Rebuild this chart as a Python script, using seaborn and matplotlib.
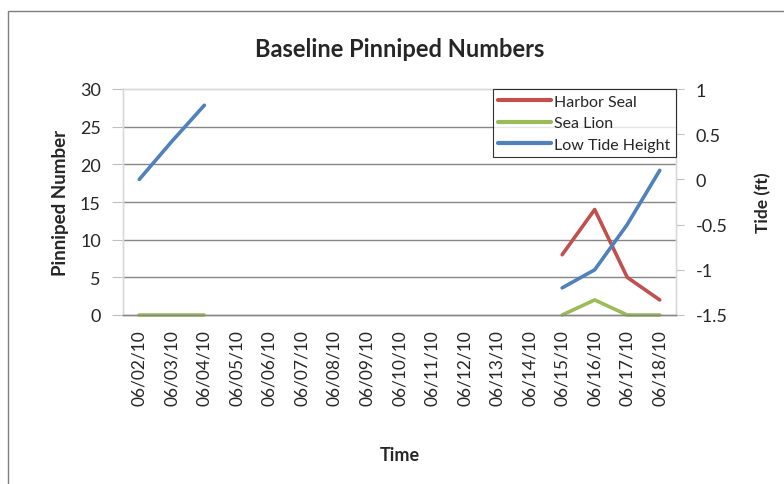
import numpy as np
import pandas as pd
import matplotlib.pyplot as plt
import matplotlib.patches as mpatches
from matplotlib.lines import Line2D
import seaborn as sns

# datos
dates = ["06/02/10", "06/03/10", "06/04/10", "06/05/10", "06/06/10", "06/07/10",
         "06/08/10", "06/09/10", "06/10/10", "06/11/10", "06/12/10", "06/13/10",
         "06/14/10", "06/15/10", "06/16/10", "06/17/10", "06/18/10"]
nan = np.nan
harbor_seal = [nan, nan, nan, nan, nan, nan, nan, nan, nan, nan, nan, nan, nan, 8, 14, 5, 2]
sea_lion = [0, 0, 0, nan, nan, nan, nan, nan, nan, nan, nan, nan, nan, 0, 2, 0, 0]
low_tide = [0.0, 0.42, 0.82, nan, nan, nan, nan, nan, nan, nan, nan, nan, nan, -1.2, -1.0, -0.5, 0.1]

colors = {"Harbor Seal": "#C0504D", "Sea Lion": "#9BBB59", "Low Tide Height": "#4F81BD"}


def to_long(name, values):
    # separar en tramos continuos para no unir los huecos
    rows = []
    seg = 0
    prev_nan = True
    for i, v in enumerate(values):
        if np.isnan(v):
            prev_nan = True
            continue
        if prev_nan:
            seg += 1
        prev_nan = False
        rows.append({"x": i, "value": v, "series": name, "seg": f"{name}_{seg}"})
    return pd.DataFrame(rows)


df_left = pd.concat([to_long("Harbor Seal", harbor_seal), to_long("Sea Lion", sea_lion)])
df_tide = to_long("Low Tide Height", low_tide)

sns.set_style("white")
plt.rcParams['font.family'] = ['Lato', 'DejaVu Sans']

fig = plt.figure(figsize=(7.84, 4.85), dpi=100)
ax = fig.add_axes([123 / 784, 1 - 316 / 485, (676 - 123) / 784, (316 - 90) / 485])
ax2 = ax.twinx()

sns.lineplot(data=df_left, x="x", y="value", hue="series", units="seg", estimator=None,
             palette=colors, linewidth=2.6, ax=ax, legend=False)
sns.lineplot(data=df_tide, x="x", y="value", hue="series", units="seg", estimator=None,
             palette=colors, linewidth=2.6, ax=ax2, legend=False)
for a in (ax, ax2):
    for ln in a.get_lines():
        ln.set_clip_on(False)
        ln.set_zorder(5)

n = len(dates)
ax.set_xlim(-0.5, n - 0.5)
ax.set_ylim(0, 30)
ax.set_yticks(range(0, 31, 5))
ax2.set_ylim(-1.5, 1)
ax2.set_yticks([-1.5, -1, -0.5, 0, 0.5, 1])
ax2.set_yticklabels(["-1.5", "-1", "-0.5", "0", "0.5", "1"])

ax.set_xticks(range(n))
ax.set_xticklabels(dates, rotation=90, fontsize=12.5)
ax.set_xticks(np.arange(-0.5, n, 1), minor=True)
ax.tick_params(axis="x", which="major", length=0, pad=10)
ax.tick_params(axis="x", which="minor", length=5, color="#868686", direction="out")
ax.tick_params(axis="y", length=8, color="#bfbfbf", labelsize=13, pad=8)
ax2.tick_params(axis="y", length=6, color="#bfbfbf", labelsize=13, pad=8)

for v in range(5, 30, 5):
    ax.axhline(v, color="#868686", linewidth=1, zorder=0)

for a in (ax, ax2):
    for s in ("left", "right", "top"):
        a.spines[s].set_color("#d9d9d9")
        a.spines[s].set_linewidth(1)
    a.spines["bottom"].set_color("#868686")
    a.spines["bottom"].set_linewidth(1)

ax.set_xlabel("Time", fontsize=13, fontweight="bold", labelpad=30)
ax.set_ylabel("Pinniped Number", fontsize=13.5, fontweight="bold", labelpad=8)
ax2.set_ylabel("Tide (ft)", fontsize=12.5, fontweight="bold", labelpad=20)
ax.set_title("Baseline Pinniped Numbers", fontsize=17, fontweight="bold", pad=24)

handles = [Line2D([0], [0], color=c, linewidth=3) for c in colors.values()]
leg = ax2.legend(handles, list(colors.keys()), loc="upper right", bbox_to_anchor=(1.0, 1.0),
                 borderaxespad=0, fontsize=11.5, frameon=True, fancybox=False,
                 handlelength=3.3, handletextpad=0.2, labelspacing=0.45, borderpad=0.35)
leg.get_frame().set_edgecolor("black")
leg.get_frame().set_linewidth(0.8)
leg.set_zorder(10)

# borde exterior del area del grafico
fig.patches.append(mpatches.Rectangle((8 / 784, -0.1), 1.2, 1 - 12 / 485 + 0.1,
                                      transform=fig.transFigure, fill=False,
                                      edgecolor="#7f7f7f", linewidth=1))

fig.savefig("out.png", dpi=100)
